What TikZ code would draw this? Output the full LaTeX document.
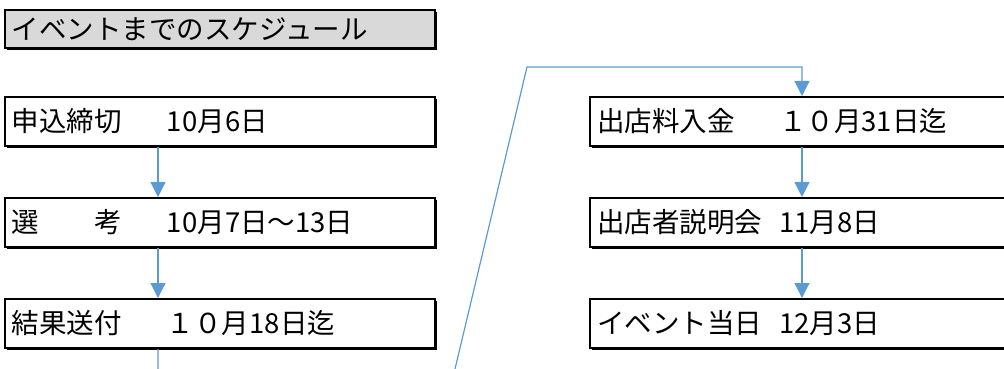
\documentclass[tikz,border=0pt]{standalone}
\usepackage{fontspec}
\setmainfont{Noto Sans CJK JP}
\usetikzlibrary{arrows.meta,shadows}
\definecolor{flowblue}{HTML}{5B9BD5}
\definecolor{titlegray}{HTML}{D9D9D9}
\newcommand{\sched}[3]{\makebox[#1][l]{#2}#3}
\tikzset{
  schedbox/.style={draw, line width=2pt, fill=white, anchor=north west,
    inner xsep=7pt, inner ysep=0pt, minimum height=49pt, align=left,
    font=\fontsize{27.5pt}{32pt}\selectfont,
    drop shadow={shadow xshift=2pt, shadow yshift=-2pt, fill=black, opacity=1}},
  flow/.style={draw=flowblue, line width=1.2pt,
    -{Triangle[width=15pt,length=15pt,fill=flowblue]}}
}
\begin{document}
\begin{tikzpicture}[x=1pt,y=-1pt]
    \useasboundingbox (0,0) rectangle (1004,369);
    \clip (0,0) rectangle (1004,369);

    % Titulo
    \node[schedbox, fill=titlegray, minimum height=38pt, text width=416pt] (titulo) at (4,9) {イベントまでのスケジュール};

    % Columna izquierda
    \node[schedbox, text width=416pt] (moshikomi) at (4,96) {\sched{155pt}{申込締切}{10月6日}};
    \node[schedbox, text width=416pt] (senko) at (4,197) {\sched{155pt}{選　　考}{10月7日～13日}};
    \node[schedbox, text width=416pt] (kekka) at (4,298) {\sched{155pt}{結果送付}{１０月18日迄}};

    % Columna derecha
    \node[schedbox, text width=426pt] (nyukin) at (589,96) {\sched{182pt}{出店料入金}{１０月31日迄}};
    \node[schedbox, text width=426pt] (setsumei) at (589,197) {\sched{182pt}{出店者説明会}{11月8日}};
    \node[schedbox, text width=426pt] (toujitsu) at (589,298) {\sched{182pt}{イベント当日}{12月3日}};

    % Flechas
    \coordinate (lx) at (158,0);
    \coordinate (rx) at (802,0);
    \foreach \a/\b in {moshikomi/senko, senko/kekka} {
        \draw[flow] (\a.south -| lx) -- (\b.north -| lx);
    }
    \foreach \a/\b in {nyukin/setsumei, setsumei/toujitsu} {
        \draw[flow] (\a.south -| rx) -- (\b.north -| rx);
    }

    % Paso de una columna a la otra
    \coordinate (abajo) at (447.6,400);
    \coordinate (arriba) at (527,67);
    \draw[flow] (kekka.south -| lx) -- (lx |- abajo) -- (abajo) -- (arriba) -- (arriba -| rx) -- (nyukin.north -| rx);
\end{tikzpicture}
\end{document}
